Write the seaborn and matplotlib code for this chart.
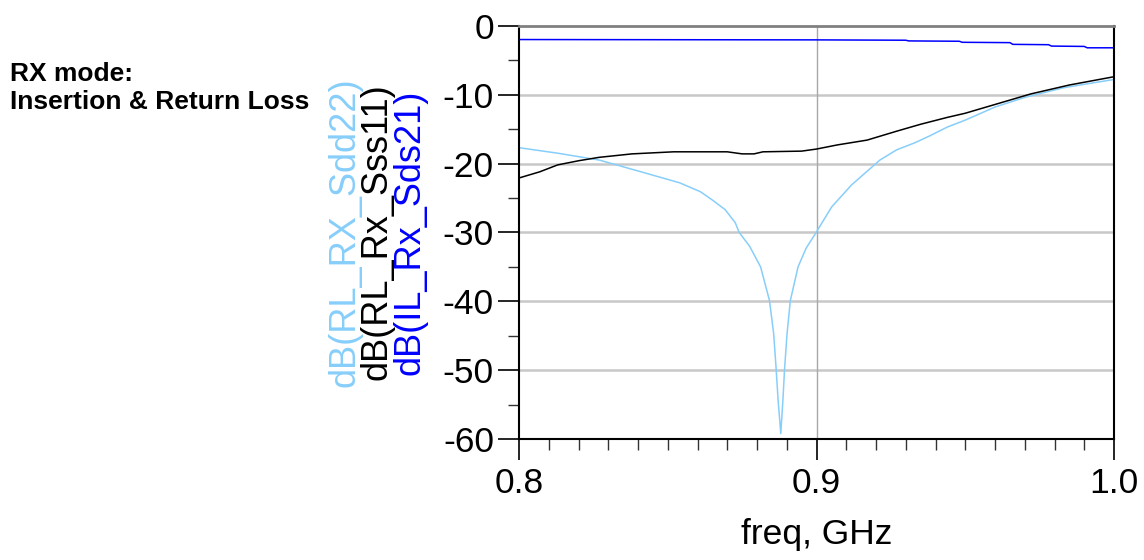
import seaborn as sns
import pandas as pd
import matplotlib.pyplot as plt
from matplotlib.ticker import MultipleLocator

# values (freq in GHz, level in dB)
sdd22_freq = [0.800, 0.813, 0.827, 0.841, 0.854, 0.861, 0.865, 0.8693, 0.8727, 0.874,
              0.8775, 0.8812, 0.8842, 0.8856, 0.8864, 0.8871, 0.8880, 0.8887, 0.8893,
              0.8901, 0.8912, 0.8938, 0.8965, 0.8996, 0.9051, 0.9118, 0.9213, 0.927,
              0.933, 0.938, 0.944, 0.950, 0.960, 0.970, 0.983, 0.990, 1.000]
sdd22_db = [-17.7, -18.5, -19.5, -21.2, -22.8, -24.1, -25.3, -26.7, -28.6, -30.0,
            -32.0, -35.0, -39.9, -44.7, -49.6, -54.4, -59.2, -54.4, -49.6,
            -44.7, -39.9, -35.0, -32.3, -30.2, -26.3, -23.1, -19.5, -18.0,
            -17.0, -16.0, -14.7, -13.7, -11.8, -10.4, -9.0, -8.5, -7.8]

sss11_freq = [0.800, 0.807, 0.813, 0.820, 0.827, 0.838, 0.852, 0.870, 0.875, 0.879,
              0.882, 0.895, 0.900, 0.907, 0.917, 0.927, 0.935, 0.944, 0.950, 0.961,
              0.972, 0.985, 1.000]
sss11_db = [-22.1, -21.2, -20.2, -19.6, -19.1, -18.6, -18.3, -18.3, -18.6, -18.6,
            -18.3, -18.2, -17.9, -17.3, -16.6, -15.3, -14.3, -13.3, -12.7, -11.3,
            -9.9, -8.6, -7.4]

sds21_freq = [0.800, 0.900, 0.930, 0.931, 0.948, 0.949, 0.965, 0.966, 0.978, 0.979,
              0.990, 0.991, 1.000]
sds21_db = [-2.0, -2.05, -2.1, -2.2, -2.25, -2.4, -2.45, -2.7, -2.75, -2.95,
            -3.0, -3.2, -3.2]

labels = ["dB(RL_RX_Sdd22)", "dB(RL_Rx_Sss11)", "dB(IL_Rx_Sds21)"]
colors = ["#87cefa", "#000000", "#0000ff"]

sns.set_style("white")
plt.rcParams['font.family'] = ['Liberation Sans', 'DejaVu Sans']
plt.rcParams['text.color'] = 'black'
plt.rcParams['axes.labelcolor'] = 'black'
plt.rcParams['xtick.color'] = 'black'
plt.rcParams['ytick.color'] = 'black'

fig = plt.figure(figsize=(11.44, 5.6), dpi=100)
ax = fig.add_axes([519 / 1144, 0.216, 595 / 1144, 0.738])

series = [(sdd22_freq, sdd22_db), (sss11_freq, sss11_db), (sds21_freq, sds21_db)]
for (f, d), c in zip(series, colors):
    df = pd.DataFrame({'freq': f, 'db': d})
    sns.lineplot(data=df, x='freq', y='db', ax=ax, color=c, linewidth=1.1,
                 estimator=None, sort=False)

ax.set_xlim(0.8, 1.0)
ax.set_ylim(-60, 0)
ax.xaxis.set_minor_locator(MultipleLocator(0.01))
ax.yaxis.set_minor_locator(MultipleLocator(5))
ax.set_xticks([0.8, 0.9, 1.0], ['0.8', '0.9', '1.0'])
ax.set_yticks(range(-60, 1, 10), [str(v) for v in range(-60, 1, 10)])

ax.tick_params(axis='both', which='major', labelsize=25.5, length=15, width=1.2,
               color='black', direction='out')
ax.tick_params(axis='y', which='major', pad=3)
ax.tick_params(axis='x', which='major', pad=5)
ax.tick_params(axis='both', which='minor', length=8, width=1.0, color='#333333',
               direction='out')
ax.tick_params(left=True, bottom=True, which='both')

for v in range(-50, 0, 10):
    ax.axhline(v, color='#c8c8c8', linewidth=1.8, zorder=0)
ax.axvline(0.9, color='#a8a8a8', linewidth=1.0, zorder=0)

for side in ['left', 'bottom', 'right']:
    ax.spines[side].set_color('black')
    ax.spines[side].set_linewidth(1.5)
ax.spines['top'].set_color('#808080')
ax.spines['top'].set_linewidth(2.0)

ax.set_xlabel('freq, GHz', fontsize=25.5, labelpad=13)
ax.set_ylabel('')

# rotated trace names on the left
for xpix, lab, c in zip([345, 377, 410], labels, colors):
    fig.text(xpix / 1144, 1 - 232 / 560, lab, rotation=90, color=c,
             fontsize=26, ha='center', va='center')

fig.text(10 / 1144, 1 - 88 / 560, "RX mode:\nInsertion & Return Loss",
         fontsize=19, fontweight='bold', ha='left', va='center', linespacing=1.25)

fig.savefig('out.png', dpi=100)
